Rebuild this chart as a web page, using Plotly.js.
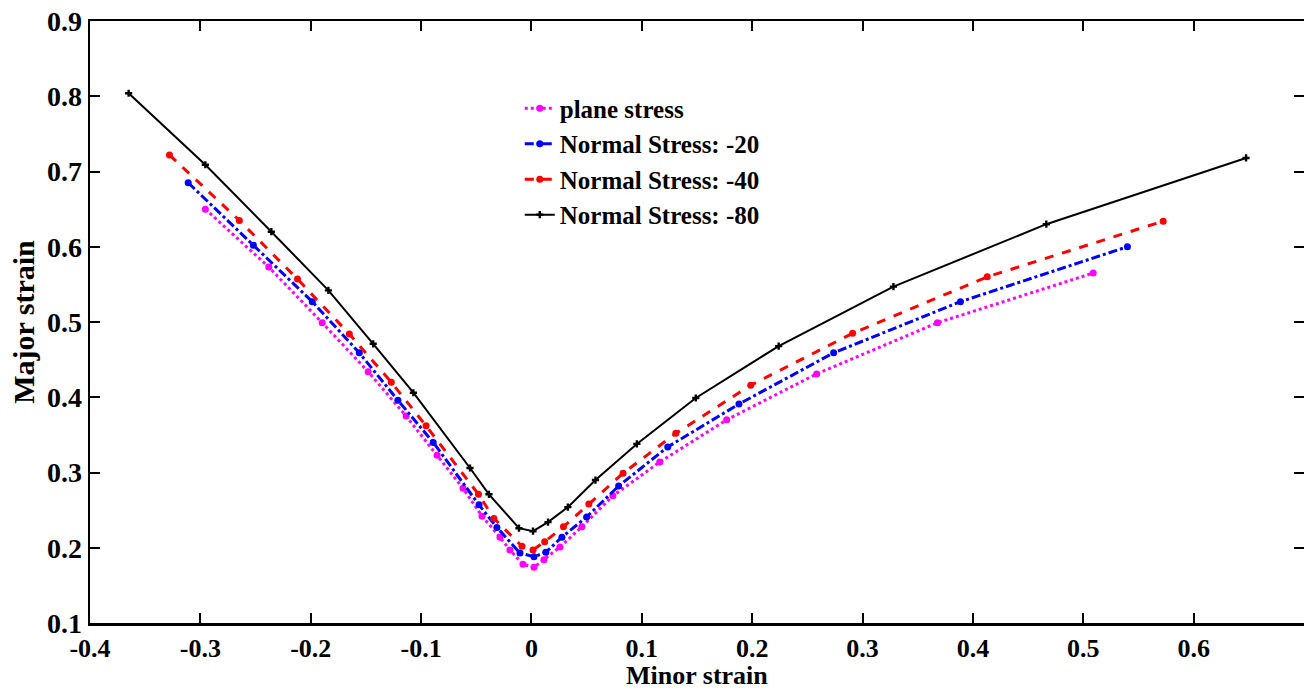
<!DOCTYPE html>
<html>
<head>
<meta charset="utf-8">
<script src="https://cdn.plot.ly/plotly-3.0.1.min.js"></script>
<style>html,body{margin:0;padding:0;background:#fff;}#chart{width:1304px;height:691px;}</style>
</head>
<body>
<div id="chart"></div>
<script>
// Series: plane stress
var planeX = [-0.2955,-0.238,-0.1896,-0.148,-0.1136,-0.0855,-0.062,-0.0448,-0.0285,-0.0195,-0.0077,0.0023,0.0113,0.0258,0.0457,0.0738,0.1163,0.1769,0.2584,0.3679,0.509];
var planeY = [0.650,0.573,0.499,0.434,0.375,0.323,0.279,0.242,0.214,0.197,0.178,0.174,0.184,0.201,0.228,0.269,0.314,0.370,0.431,0.499,0.565];
// Series: Normal Stress -20
var n20X = [-0.311,-0.252,-0.1986,-0.156,-0.121,-0.089,-0.0475,-0.0313,-0.0104,0.0023,0.013,0.0276,0.050,0.079,0.1235,0.188,0.2738,0.3887,0.540];
var n20Y = [0.685,0.602,0.527,0.459,0.396,0.340,0.257,0.227,0.193,0.188,0.194,0.214,0.241,0.282,0.334,0.391,0.459,0.527,0.600];
// Series: Normal Stress -40
var n40X = [-0.328,-0.2647,-0.212,-0.165,-0.127,-0.0955,-0.048,-0.034,-0.0086,0.0014,0.012,0.029,0.052,0.083,0.1308,0.1987,0.291,0.413,0.5724];
var n40Y = [0.722,0.635,0.557,0.484,0.420,0.362,0.271,0.239,0.202,0.197,0.208,0.228,0.258,0.299,0.352,0.416,0.485,0.560,0.634];
// Series: Normal Stress -80
var n80X = [-0.365,-0.2955,-0.2357,-0.184,-0.1434,-0.107,-0.0557,-0.0385,-0.0113,0.0014,0.015,0.033,0.058,0.0955,0.1489,0.224,0.328,0.4665,0.6475];
var n80Y = [0.804,0.709,0.620,0.542,0.471,0.406,0.306,0.271,0.226,0.222,0.234,0.254,0.290,0.338,0.399,0.468,0.547,0.630,0.718];

var seriesNames = ['plane stress','Normal Stress: -20','Normal Stress: -40','Normal Stress: -80'];
var xTicks = [-0.4,-0.3,-0.2,-0.1,0,0.1,0.2,0.3,0.4,0.5,0.6];
var xTickText = ['-0.4','-0.3','-0.2','-0.1','0','0.1','0.2','0.3','0.4','0.5','0.6'];
var yTicks = [0.1,0.2,0.3,0.4,0.5,0.6,0.7,0.8,0.9];
var yTickText = ['0.1','0.2','0.3','0.4','0.5','0.6','0.7','0.8','0.9'];
var xTitle = 'Minor strain';
var yTitle = 'Major strain';

var FONT = '"Liberation Serif", "Times New Roman", serif';

var traces = [
  {x: planeX, y: planeY, name: seriesNames[0], mode: 'lines+markers',
   line: {color: '#ff00ff', width: 3, dash: 'dot'}, marker: {color: '#ff00ff', size: 7, symbol: 'circle'}},
  {x: n20X, y: n20Y, name: seriesNames[1], mode: 'lines+markers',
   line: {color: '#0000ff', width: 3, dash: 'dashdot'}, marker: {color: '#0000ff', size: 7, symbol: 'circle'}},
  {x: n40X, y: n40Y, name: seriesNames[2], mode: 'lines+markers',
   line: {color: '#ff0000', width: 3, dash: 'dash'}, marker: {color: '#ff0000', size: 7, symbol: 'circle'}},
  {x: n80X, y: n80Y, name: seriesNames[3], mode: 'lines+markers',
   line: {color: '#000000', width: 2}, marker: {color: '#000000', size: 6, symbol: 'cross'}}
];

var axisCommon = {
  showline: true, linecolor: '#000', linewidth: 2.5, mirror: 'ticks',
  ticks: 'inside', ticklen: 10, tickwidth: 2, tickcolor: '#000',
  showgrid: false, zeroline: false
};

var layout = {
  width: 1304, height: 691,
  margin: {l: 90, r: 0, t: 21, b: 68},
  paper_bgcolor: '#fff', plot_bgcolor: '#fff',
  showlegend: true,
  legend: {x: 0.354, y: 0.893, xanchor: 'left', yanchor: 'top', bgcolor: 'rgba(0,0,0,0)',
           font: {family: FONT, size: 25, color: '#000', weight: 'bold'}, tracegroupgap: 0, itemwidth: 30},
  xaxis: Object.assign({}, axisCommon, {
    range: [-0.4, 0.7], tickmode: 'array', tickvals: xTicks, ticktext: xTickText,
    tickfont: {family: FONT, size: 26, color: '#000', weight: 'bold'}
  }),
  yaxis: Object.assign({}, axisCommon, {
    range: [0.1, 0.9], tickmode: 'array', tickvals: yTicks, ticktext: yTickText,
    tickfont: {family: FONT, size: 28, color: '#000', weight: 'bold'},
    title: {text: yTitle, font: {family: FONT, size: 30, color: '#000', weight: 'bold'}, standoff: 4}
  }),
  annotations: [{
    text: xTitle, xref: 'paper', yref: 'paper', x: 0.5, y: -0.1135, xanchor: 'center', yanchor: 'bottom',
    showarrow: false, borderpad: 0, font: {family: FONT, size: 26, color: '#000', weight: 'bold'}
  }]
};

Plotly.newPlot('chart', traces, layout, {displayModeBar: false, staticPlot: true});
</script>
</body>
</html>
